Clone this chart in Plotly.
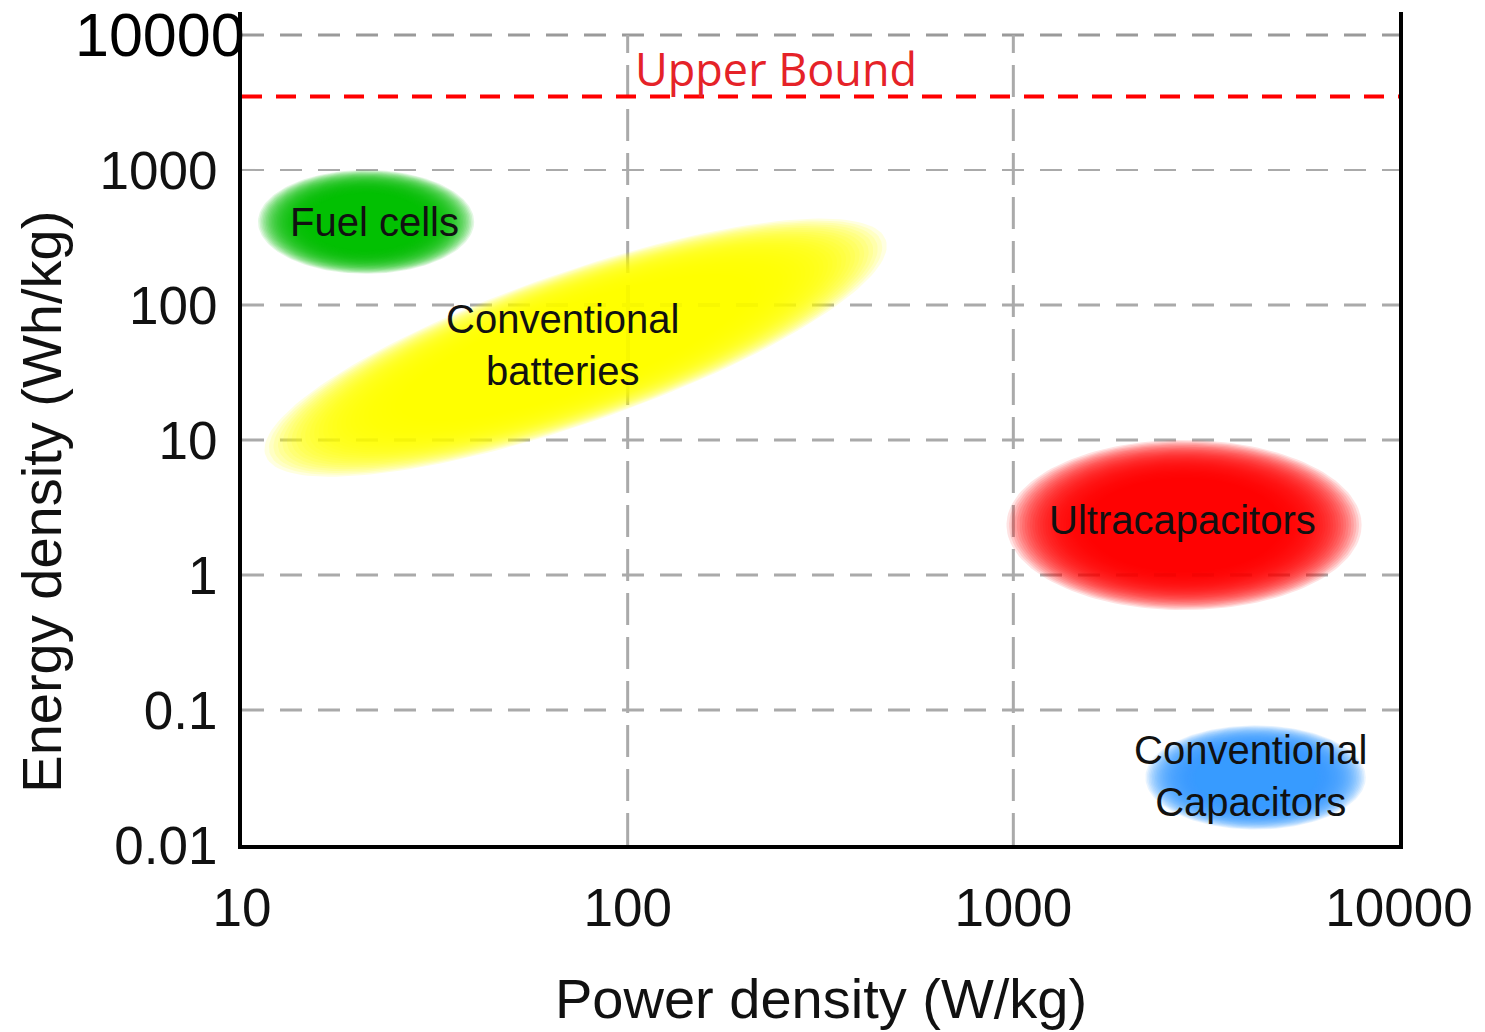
import numpy as np
import plotly.graph_objects as go

# ---------------- data ----------------
x_ticks = [10, 100, 1000, 10000]
x_ticktext = ["10", "100", "1000", "10000"]
y_ticks = [0.01, 0.1, 1, 10, 100, 1000, 10000]
y_ticktext = ["0.01", "0.1", "1", "10", "100", "1000", ""]

# axis-aligned regions: power range (W/kg), energy range (Wh/kg)
region_names = ["Fuel cells", "Ultracapacitors", "Conventional<br>Capacitors"]
region_power_lo = [11, 960, 2200]
region_power_hi = [40, 8000, 8200]
region_energy_lo = [170, 0.55, 0.013]
region_energy_hi = [1000, 10, 0.077]
region_colors = ["0,190,0", "255,0,0", "51,153,255"]

# conventional batteries: elongated band between two end points
battery_name = "Conventional<br>batteries"
battery_power = [11.5, 467]
battery_energy = [7.7, 303]
battery_energy_spread = 3.9   # band extends x/÷ this factor in energy
battery_color = "255,255,0"

upper_bound = 3500

# ---------------- layout geometry ----------------
W, H = 1485, 1032
ML, MR, MT, MB = 242, 82, 12, 187
XR = [1, 4]
YR = [-2, 4.17]
PXX = (W - ML - MR) / (XR[1] - XR[0])
PXY = (H - MT - MB) / (YR[1] - YR[0])

fig = go.Figure()

# gridlines
grid_col = "#aaaaaa"
for v in [0.1, 1, 10, 100, 1000, 10000]:
    fig.add_trace(go.Scatter(
        x=[x_ticks[0], x_ticks[-1]], y=[v, v], mode="lines",
        line=dict(color="#9a9a9a" if v == 10000 else grid_col,
                  width=2 if v == 1000 else 3, dash="22px,16px"),
        hoverinfo="skip", showlegend=False))
for v in x_ticks[1:-1]:
    fig.add_trace(go.Scatter(
        x=[v, v], y=[y_ticks[0], y_ticks[-1]], mode="lines",
        line=dict(color=grid_col, width=3, dash="32px,12px"),
        hoverinfo="skip", showlegend=False))


def blob(cx, cy, a_px, b_px, ang, rgb, n=32, alpha=0.11, smin=0.55):
    t = np.linspace(0, 2 * np.pi, 160)
    for k in range(n):
        s = 1 - (1 - smin) * k / (n - 1)
        u = a_px * s * np.cos(t)
        v = b_px * s * np.sin(t)
        xr = u * np.cos(ang) - v * np.sin(ang)
        yr = u * np.sin(ang) + v * np.cos(ang)
        fig.add_trace(go.Scatter(
            x=10 ** (cx + xr / PXX), y=10 ** (cy + yr / PXY),
            mode="lines", fill="toself", line=dict(width=0),
            fillcolor=f"rgba({rgb},{alpha})",
            hoverinfo="skip", showlegend=False))


label_font = dict(family="Liberation Sans, Arial, sans-serif", size=40, color="#111111")

# batteries
bx = np.log10(battery_power)
by = np.log10(battery_energy)
bcx, bcy = bx.mean(), by.mean()
dx = (bx[1] - bx[0]) * PXX
dy = (by[1] - by[0]) * PXY
ang = np.arctan2(dy, dx)
a = np.hypot(dx, dy) / 2
b = np.log10(battery_energy_spread) * PXY * np.cos(ang)
blob(bcx, bcy, a, b, ang, battery_color, alpha=0.12)
fig.add_annotation(x=bcx, y=bcy, xref="x", yref="y", text=battery_name,
                   showarrow=False, font=label_font, align="center", xshift=-13, yshift=3)

# other regions
label_shift = [(8, 0), (-2, 5), (-5, 1)]
for name, plo, phi, elo, ehi, col, sh in zip(region_names, region_power_lo, region_power_hi,
                                             region_energy_lo, region_energy_hi, region_colors,
                                             label_shift):
    lx0, lx1 = np.log10(plo), np.log10(phi)
    ly0, ly1 = np.log10(elo), np.log10(ehi)
    cx, cy = (lx0 + lx1) / 2, (ly0 + ly1) / 2
    blob(cx, cy, (lx1 - lx0) / 2 * PXX, (ly1 - ly0) / 2 * PXY, 0.0, col)
    fig.add_annotation(x=cx, y=cy, xref="x", yref="y", text=name, showarrow=False,
                       font=label_font, align="center", xshift=sh[0], yshift=sh[1])

# upper bound
fig.add_trace(go.Scatter(
    x=[x_ticks[0], x_ticks[-1]], y=[upper_bound, upper_bound], mode="lines",
    line=dict(color="#ff0000", width=4, dash="20px,14px"),
    hoverinfo="skip", showlegend=False))
fig.add_annotation(x=2, y=np.log10(upper_bound), xref="x", yref="y", text="Upper Bound",
                   showarrow=False, xanchor="left", yanchor="bottom", xshift=5, yshift=-4,
                   font=dict(family="Open Sans, sans-serif", size=45, color="#e52228"))

# top y tick label (bigger)
fig.add_annotation(x=0, y=np.log10(y_ticks[-1]), xref="paper", yref="y", text="10000",
                   showarrow=False, xanchor="right", yanchor="middle", xshift=4, yshift=0,
                   borderpad=0,
                   font=dict(family="Liberation Sans, Arial, sans-serif", size=61, color="black"))

# axis titles
title_font = dict(family="Liberation Sans, Arial, sans-serif", size=56, color="#111111")
fig.add_annotation(x=(40 - ML) / (W - ML - MR), y=(845 - 502) / (H - MT - MB),
                   xref="paper", yref="paper",
                   text="Energy density (Wh/kg)", textangle=-90, showarrow=False,
                   xanchor="center", yanchor="middle", font=title_font)
fig.add_annotation(x=0.5, y=(845 - 998) / (H - MT - MB), xref="paper", yref="paper",
                   text="Power density (W/kg)", showarrow=False,
                   xanchor="center", yanchor="middle", font=title_font)

tick_font = dict(family="Liberation Sans, Arial, sans-serif", size=53, color="#111111")
fig.update_layout(
    width=W, height=H,
    margin=dict(l=ML, r=MR, t=MT, b=MB, pad=0),
    paper_bgcolor="white", plot_bgcolor="white",
    showlegend=False,
    xaxis=dict(type="log", range=XR, showgrid=False, zeroline=False,
               showline=True, linecolor="black", linewidth=4, mirror=False,
               tickmode="array", tickvals=x_ticks, ticktext=x_ticktext,
               ticks="outside", ticklen=13, tickcolor="rgba(0,0,0,0)",
               tickfont=tick_font),
    yaxis=dict(type="log", range=YR, showgrid=False, zeroline=False,
               showline=True, linecolor="black", linewidth=4, mirror=True,
               tickmode="array", tickvals=y_ticks, ticktext=y_ticktext,
               ticks="outside", ticklen=10, tickcolor="rgba(0,0,0,0)",
               tickfont=tick_font),
)

fig.write_html("out.html", config={"displayModeBar": False},
               post_script="document.body.style.margin='0';document.body.style.overflow='hidden';")
